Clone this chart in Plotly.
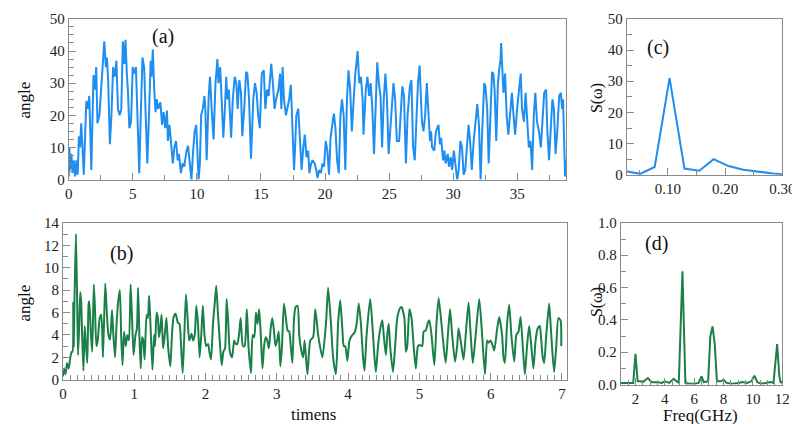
import plotly.graph_objects as go

# ---------------- data ----------------
# (a) angle vs time
a_t = [0.0, 0.05, 0.1, 0.2, 0.3, 0.4, 0.5, 0.6, 0.7, 0.79, 0.88, 0.97, 1.07, 1.17,
       1.37, 1.48, 1.60, 1.76, 1.93, 2.06, 2.14, 2.24, 2.39, 2.57, 2.77, 2.90, 2.98, 3.08,
       3.21, 3.33, 3.46, 3.59, 3.72, 3.84, 3.97, 4.10, 4.22, 4.35, 4.43, 4.53, 4.61, 4.73,
       4.86, 4.99, 5.11, 5.24, 5.37, 5.50, 5.62, 5.75, 5.88, 6.01, 6.13, 6.26, 6.39, 6.46,
       6.56, 6.67, 6.77, 6.87, 6.97, 7.15, 7.28, 7.40, 7.53, 7.66, 7.74, 7.86, 7.99, 8.12,
       8.24, 8.37, 8.50, 8.60, 8.75, 8.88, 9.01, 9.19, 9.31, 9.44, 9.57, 9.69, 9.82, 9.95,
       10.03, 10.13, 10.23, 10.33, 10.46, 10.59, 10.66, 10.76, 10.92, 11.02, 11.15, 11.30,
       11.45, 11.60, 11.68, 11.81, 11.93, 12.06, 12.16, 12.29, 12.37, 12.49, 12.67, 12.80,
       12.95, 13.08, 13.18, 13.31, 13.44, 13.54, 13.69, 13.84, 13.94, 14.07, 14.22, 14.40,
       14.53, 14.66, 14.78, 14.91, 15.06, 15.22, 15.34, 15.47, 15.60, 15.80, 15.93, 16.06,
       16.18, 16.36, 16.49, 16.59, 16.69, 16.79, 16.95, 17.07, 17.20, 17.33, 17.46, 17.58,
       17.66, 17.76, 17.91, 18.02, 18.17, 18.30, 18.42, 18.55, 18.68, 18.78, 18.91, 19.03,
       19.19, 19.31, 19.41, 19.54, 19.67, 19.80, 19.92, 20.05, 20.18, 20.31, 20.43, 20.56,
       20.69, 20.81, 20.94, 21.07, 21.20, 21.32, 21.45, 21.58, 21.71, 21.83, 21.96, 22.09,
       22.21, 22.34, 22.54, 22.67, 22.80, 22.93, 23.00, 23.18, 23.31, 23.44, 23.56, 23.69,
       23.82, 23.94, 24.07, 24.20, 24.33, 24.45, 24.58, 24.71, 24.83, 24.96, 25.09, 25.22,
       25.34, 25.47, 25.60, 25.78, 25.90, 26.03, 26.16, 26.31, 26.44, 26.62, 26.74, 26.87,
       27.00, 27.12, 27.25, 27.38, 27.46, 27.56, 27.68, 27.81, 27.94, 28.07, 28.19, 28.27,
       28.35, 28.52, 28.65, 28.85, 28.96, 29.06, 29.21, 29.31, 29.41, 29.57, 29.67, 29.80,
       29.92, 30.05, 30.18, 30.31, 30.43, 30.56, 30.69, 30.81, 30.94, 31.07, 31.20, 31.32,
       31.45, 31.60, 31.76, 31.88, 32.01, 32.14, 32.26, 32.42, 32.52, 32.65, 32.77, 32.90,
       33.03, 33.13, 33.23, 33.36, 33.49, 33.61, 33.69, 33.74, 33.82, 33.92, 34.05, 34.17,
       34.30, 34.45, 34.58, 34.71, 34.83, 35.01, 35.14, 35.27, 35.37, 35.52, 35.65, 35.78,
       35.90, 36.03, 36.16, 36.29, 36.41, 36.54, 36.69, 36.84, 36.97, 37.10, 37.25, 37.35,
       37.48, 37.61, 37.74, 37.86, 37.99, 38.12, 38.27, 38.40, 38.50, 38.57, 38.65, 38.73,
       38.78]
a_angle = [1, 10, 3, 8, 2, 6, 1, 6, 1.5, 13.5, 10, 17.5, 10, 1.5,
           24.5, 22, 26, 3, 32.5, 28, 35, 17.5, 20, 30, 43, 35, 38, 30,
           11, 20, 35, 32, 37, 22, 20, 22, 43, 36, 43.5, 33, 28, 16,
           18, 35, 33, 35, 15, 2, 20, 38, 35, 20, 5, 20, 37, 32,
           40.5, 28, 21, 25, 22, 24, 17, 21, 16, 21.5, 12, 17, 10, 5,
           10, 12, 6, 8, 2, 5, 4, 9, 10.5, 6, 0, 8, 15, 17,
           8, 0, 5, 20, 22, 26, 22, 6, 26, 32, 22, 12.5,
           30, 37.5, 30, 35, 25, 13, 20, 32, 25, 28, 13, 25,
           32, 30, 22, 31, 27, 13.5, 22, 33.5, 33, 25, 6.5, 25,
           30, 27, 20, 16, 33, 34, 22, 28, 26, 36, 30, 22,
           25, 28, 33, 22, 35, 25, 20, 22, 25, 29.5, 12, 3,
           10, 20, 22, 12, 3, 10, 14, 7, 9, 2, 5, 6,
           5, 3, 0.5, 3, 2, 5, 4, 12, 9, 1.5, 13, 17,
           20.5, 16, 6, 2, 20, 25, 20, 3, 25, 34, 28, 15,
           22, 32, 40, 30, 32, 25, 14, 28, 32, 26, 30, 22,
           8, 20, 36.5, 30, 26, 10, 25, 33, 25, 8, 16, 26,
           30, 25, 12, 12, 22, 29, 26, 5, 20, 29, 31, 10,
           6, 20, 30, 35.5, 25, 18, 15, 20, 30, 22, 12, 15,
           10, 9, 15, 17, 11, 13, 6, 9, 5, 8, 4, 7,
           3, 9, 4, 0, 3, 12, 10, 1.5, 3, 12, 17, 12,
           3, 12, 20, 23.5, 17, 0, 15, 30, 29, 22, 5, 20,
           33.5, 33, 28, 12, 30, 35, 37, 42.5, 33, 27, 33, 20,
           14, 22, 27, 20, 14, 23, 28, 33, 22, 18, 27, 17,
           10, 12, 3, 20, 27, 18, 15, 10, 20, 27, 28, 15,
           6, 17, 25, 22, 8, 15, 26, 27, 22, 25, 10, 1,
           6]

# (b) angle vs timens
b_t = [0.0, 0.023, 0.037, 0.059, 0.082, 0.105, 0.123, 0.135, 0.145, 0.152, 0.165, 0.183,
       0.2, 0.212, 0.23, 0.243, 0.256, 0.27, 0.288, 0.306, 0.324, 0.342, 0.361, 0.37,
       0.393, 0.411, 0.434, 0.452, 0.47, 0.489, 0.516, 0.539, 0.562, 0.594, 0.616, 0.639,
       0.662, 0.689, 0.708, 0.731, 0.753, 0.776, 0.799, 0.817, 0.836, 0.858, 0.881, 0.904,
       0.927, 0.95, 0.973, 0.991, 1.018, 1.037, 1.055, 1.073, 1.091, 1.11, 1.128, 1.146,
       1.174, 1.192, 1.21, 1.228, 1.256, 1.279, 1.292, 1.315, 1.333, 1.347, 1.365, 1.384,
       1.406, 1.429, 1.452, 1.475, 1.507, 1.53, 1.553, 1.58, 1.612, 1.635, 1.658, 1.68,
       1.703, 1.726, 1.749, 1.772, 1.804, 1.826, 1.849, 1.872, 1.895, 1.918, 1.941, 1.963,
       1.986, 2.009, 2.037, 2.055, 2.078, 2.105, 2.132, 2.151, 2.174, 2.205, 2.228, 2.251,
       2.274, 2.297, 2.32, 2.342, 2.374, 2.402, 2.425, 2.447, 2.47, 2.493, 2.525, 2.548,
       2.58, 2.603, 2.639, 2.662, 2.685, 2.708, 2.731, 2.753, 2.776, 2.799, 2.822, 2.845,
       2.868, 2.89, 2.913, 2.936, 2.959, 2.982, 3.005, 3.027, 3.05, 3.073, 3.1, 3.128,
       3.151, 3.174, 3.196, 3.219, 3.242, 3.265, 3.292, 3.315, 3.347, 3.37, 3.39, 3.43,
       3.47, 3.51, 3.54, 3.58, 3.6, 3.64, 3.69, 3.72, 3.76, 3.79, 3.83, 3.86,
       3.89, 3.92, 3.94, 3.96, 3.99, 4.02, 4.06, 4.09, 4.12, 4.15, 4.18, 4.21,
       4.23, 4.26, 4.31, 4.34, 4.37, 4.39, 4.42, 4.45, 4.48, 4.5, 4.53, 4.55,
       4.57, 4.59, 4.63, 4.66, 4.69, 4.73, 4.75, 4.79, 4.81, 4.83, 4.86, 4.89,
       4.92, 4.95, 4.98, 5.005, 5.04, 5.06, 5.09, 5.12, 5.14, 5.17, 5.21, 5.24,
       5.27, 5.31, 5.34, 5.37, 5.4, 5.43, 5.46, 5.5, 5.53, 5.55, 5.59, 5.62,
       5.65, 5.69, 5.71, 5.73, 5.75, 5.79, 5.84, 5.88, 5.92, 5.95, 5.97, 6.0,
       6.03, 6.05, 6.09, 6.12, 6.16, 6.18, 6.2, 6.23, 6.26, 6.29, 6.33, 6.36,
       6.39, 6.42, 6.45, 6.48, 6.51, 6.54, 6.57, 6.6, 6.63, 6.66, 6.69, 6.7,
       6.73, 6.75, 6.78, 6.82, 6.84, 6.86, 6.89, 6.92, 6.95, 6.98, 6.99]
b_angle = [0.3, 1.0, 0.5, 1.5, 1.0, 2.0, 2.5, 2.5, 6.9, 3.0, 8.0, 13.0,
           7.0, 2.2, 5.0, 7.8, 7.0, 4.0, 0.8, 4.8, 3.0, 1.5, 6.8, 7.0,
           4.0, 2.5, 8.5, 6.0, 3.0, 3.5, 5.5, 5.8, 2.0, 8.6, 6.0, 4.0,
           3.6, 6.2, 4.0, 2.0, 5.0, 7.0, 8.0, 4.0, 1.3, 4.3, 3.0, 4.0,
           3.5, 8.5, 5.0, 2.2, 4.0, 4.5, 8.2, 4.0, 1.0, 3.8, 3.5, 1.8,
           5.8, 5.5, 7.5, 5.0, 0.9, 4.0, 3.0, 6.0, 5.5, 3.8, 4.5, 5.8,
           2.8, 4.0, 5.5, 3.0, 1.2, 4.0, 5.6, 5.9, 5.1, 5.0, 3.0, 0.6,
           4.0, 7.6, 5.5, 3.5, 4.1, 3.5, 4.0, 6.6, 5.0, 2.0, 4.0, 6.6,
           4.0, 3.0, 3.2, 2.5, 1.8, 5.0, 7.0, 8.4, 6.0, 3.0, 1.3, 2.5,
           2.8, 7.2, 5.0, 2.5, 2.0, 3.5, 3.2, 3.2, 4.0, 5.5, 3.0, 3.0,
           6.3, 3.0, 0.6, 4.0, 3.8, 6.0, 5.0, 6.3, 4.0, 1.0, 3.0, 3.8,
           3.5, 2.8, 4.5, 5.5, 4.5, 3.0, 3.5, 4.3, 1.2, 3.0, 6.8, 5.5,
           4.4, 4.3, 3.0, 1.5, 5.5, 6.5, 6.6, 4.0, 2.5, 2.0, 3.5, 0.5,
           3.5, 3.8, 6.3, 4.0, 3.2, 2.0, 5.0, 8.2, 5.0, 2.0, 0.5, 5.0,
           7.1, 4.5, 3.0, 3.0, 1.7, 3.5, 4.0, 4.2, 5.0, 6.8, 5.0, 2.0,
           0.8, 4.0, 7.2, 5.0, 2.0, 0.7, 3.0, 4.5, 5.3, 4.0, 2.2, 4.0,
           5.0, 3.0, 0.7, 3.0, 5.5, 6.4, 6.5, 5.5, 2.5, 3.0, 6.3, 5.5,
           3.0, 1.0, 3.0, 3.1, 3.0, 4.3, 4.4, 5.1, 5.3, 4.0, 1.3, 5.0,
           7.3, 5.0, 3.0, 1.5, 4.0, 6.3, 4.0, 1.6, 3.0, 4.6, 3.0, 1.8,
           4.0, 6.9, 5.0, 3.0, 1.5, 4.0, 7.2, 4.0, 0.5, 3.5, 3.3, 3.5,
           3.0, 2.6, 4.5, 5.6, 4.0, 2.0, 1.5, 5.0, 6.7, 4.0, 1.6, 4.0,
           4.3, 5.6, 3.0, 0.5, 3.0, 4.8, 3.0, 1.0, 3.5, 4.6, 4.8, 4.3,
           2.0, 1.5, 4.0, 6.8, 5.0, 3.0, 0.7, 3.0, 5.5, 5.3, 3.0]

# (c) spectrum of (a)
c_freq = [0.0258, 0.0515, 0.077, 0.103, 0.129, 0.155, 0.18, 0.206, 0.232, 0.258, 0.284, 0.309]
c_S = [1.2, 0.3, 2.5, 31.0, 2.0, 1.3, 5.0, 2.8, 1.6, 0.9, 0.4, 0.1]

# (d) spectrum of (b)
d_freq = [1.0, 1.85, 2.0, 2.15, 2.35, 2.5, 2.85, 3.1, 3.5, 3.8, 4.0, 4.3, 4.6, 4.8,
          4.95, 5.2, 5.4, 5.7, 6.0, 6.3, 6.5, 6.65, 6.95, 7.1, 7.25, 7.4, 7.55, 7.8,
          8.0, 8.2, 8.6, 9.0, 9.3, 9.6, 9.9, 10.1, 10.3, 10.6, 10.9, 11.2, 11.4, 11.55,
          11.65, 11.8, 11.9, 12.0]
d_S = [0.01, 0.01, 0.19, 0.02, 0.02, 0.015, 0.04, 0.015, 0.015, 0.01, 0.02, 0.01, 0.035, 0.02,
       0.01, 0.70, 0.01, 0.005, 0.005, 0.01, 0.05, 0.015, 0.02, 0.30, 0.36, 0.25, 0.02, 0.02,
       0.03, 0.01, 0.005, 0.01, 0.015, 0.01, 0.02, 0.055, 0.015, 0.005, 0.01, 0.015, 0.01, 0.15,
       0.25, 0.05, 0.01, 0.02]

BLUE = "#1e8ef0"
GREEN = "#1a8048"
FONT = "Liberation Serif"
AX = "#8a8a8a"

W, H = 800, 424


def px(x0, x1):
    return [x0 / W, x1 / W]


def py(top, bottom):
    return [1 - bottom / H, 1 - top / H]


def axis(domain, rng, dtick, mdtick, anchor, fmt=None, tickvals=None):
    d = dict(domain=domain, range=rng, anchor=anchor, showline=True, linecolor=AX,
             linewidth=1, mirror=True, ticks="inside", ticklen=7, tickcolor=AX,
             tickwidth=1, dtick=dtick, tick0=0, showgrid=False, zeroline=False,
             tickfont=dict(family=FONT, size=15, color="#222"),
             minor=dict(dtick=mdtick, tick0=0, ticks="inside", ticklen=5,
                        tickcolor=AX, showgrid=False))
    if fmt:
        d["tickformat"] = fmt
    if tickvals is not None:
        d["tickvals"] = tickvals
        d["tickmode"] = "array"
    return d


fig = go.Figure()
fig.add_trace(go.Scatter(x=a_t, y=a_angle, mode="lines", line=dict(color=BLUE, width=2),
                         xaxis="x", yaxis="y", showlegend=False))
fig.add_trace(go.Scatter(x=c_freq, y=c_S, mode="lines", line=dict(color=BLUE, width=2),
                         xaxis="x2", yaxis="y2", showlegend=False))
fig.add_trace(go.Scatter(x=b_t, y=b_angle, mode="lines",
                         line=dict(color=GREEN, width=2, shape="spline", smoothing=0.6),
                         xaxis="x3", yaxis="y3", showlegend=False))
fig.add_trace(go.Scatter(x=d_freq, y=d_S, mode="lines", line=dict(color=GREEN, width=2),
                         xaxis="x4", yaxis="y4", showlegend=False))

fig.update_layout(
    width=W, height=H, autosize=False,
    margin=dict(l=0, r=0, t=0, b=0),
    paper_bgcolor="white", plot_bgcolor="white",
    font=dict(family=FONT, size=15, color="#222"),
    xaxis=axis(px(58, 566), [0, 38.8], 5, 2.5, "y"),
    yaxis=axis(py(3, 170), [0, 50], 10, 2.5, "x"),
    xaxis2=axis(px(628, 787), [0.028, 0.30], 0.1, 0.05, "y2", fmt=".2f",
                tickvals=[0.1, 0.2, 0.3]),
    yaxis2=axis(py(3, 165), [0, 50], 10, 5, "x2"),
    xaxis3=axis(px(52, 567), [0, 7.07], 1, 0.1, "y3"),
    yaxis3=axis(py(215, 378), [0, 14], 2, 1, "x3"),
    xaxis4=axis(px(622, 787), [1, 12], 2, 0.5, "y4"),
    yaxis4=axis(py(215, 383), [0, 1.0], 0.2, 0.1, "x4", fmt=".1f"),
)


def ann(text, x, y, size, angle=0):
    fig.add_annotation(text=text, x=x / W, y=1 - y / H, xref="paper", yref="paper",
                       showarrow=False, textangle=angle,
                       font=dict(family=FONT, size=size, color="#111"),
                       xanchor="center", yanchor="middle")


ann("angle", 13, 87, 17, -90)
ann("angle", 13, 298, 17, -90)
ann("S(ω)", 597, 85, 16, -90)
ann("S(ω)", 597, 297, 16, -90)
ann("timens", 308, 414, 17)
ann("Freq(GHz)", 703, 415, 17)
ann("(a)", 154, 21, 20)
ann("(b)", 112, 247, 20)
ann("(c)", 660, 33, 20)
ann("(d)", 659, 236, 20)

fig.write_html("out.html")
